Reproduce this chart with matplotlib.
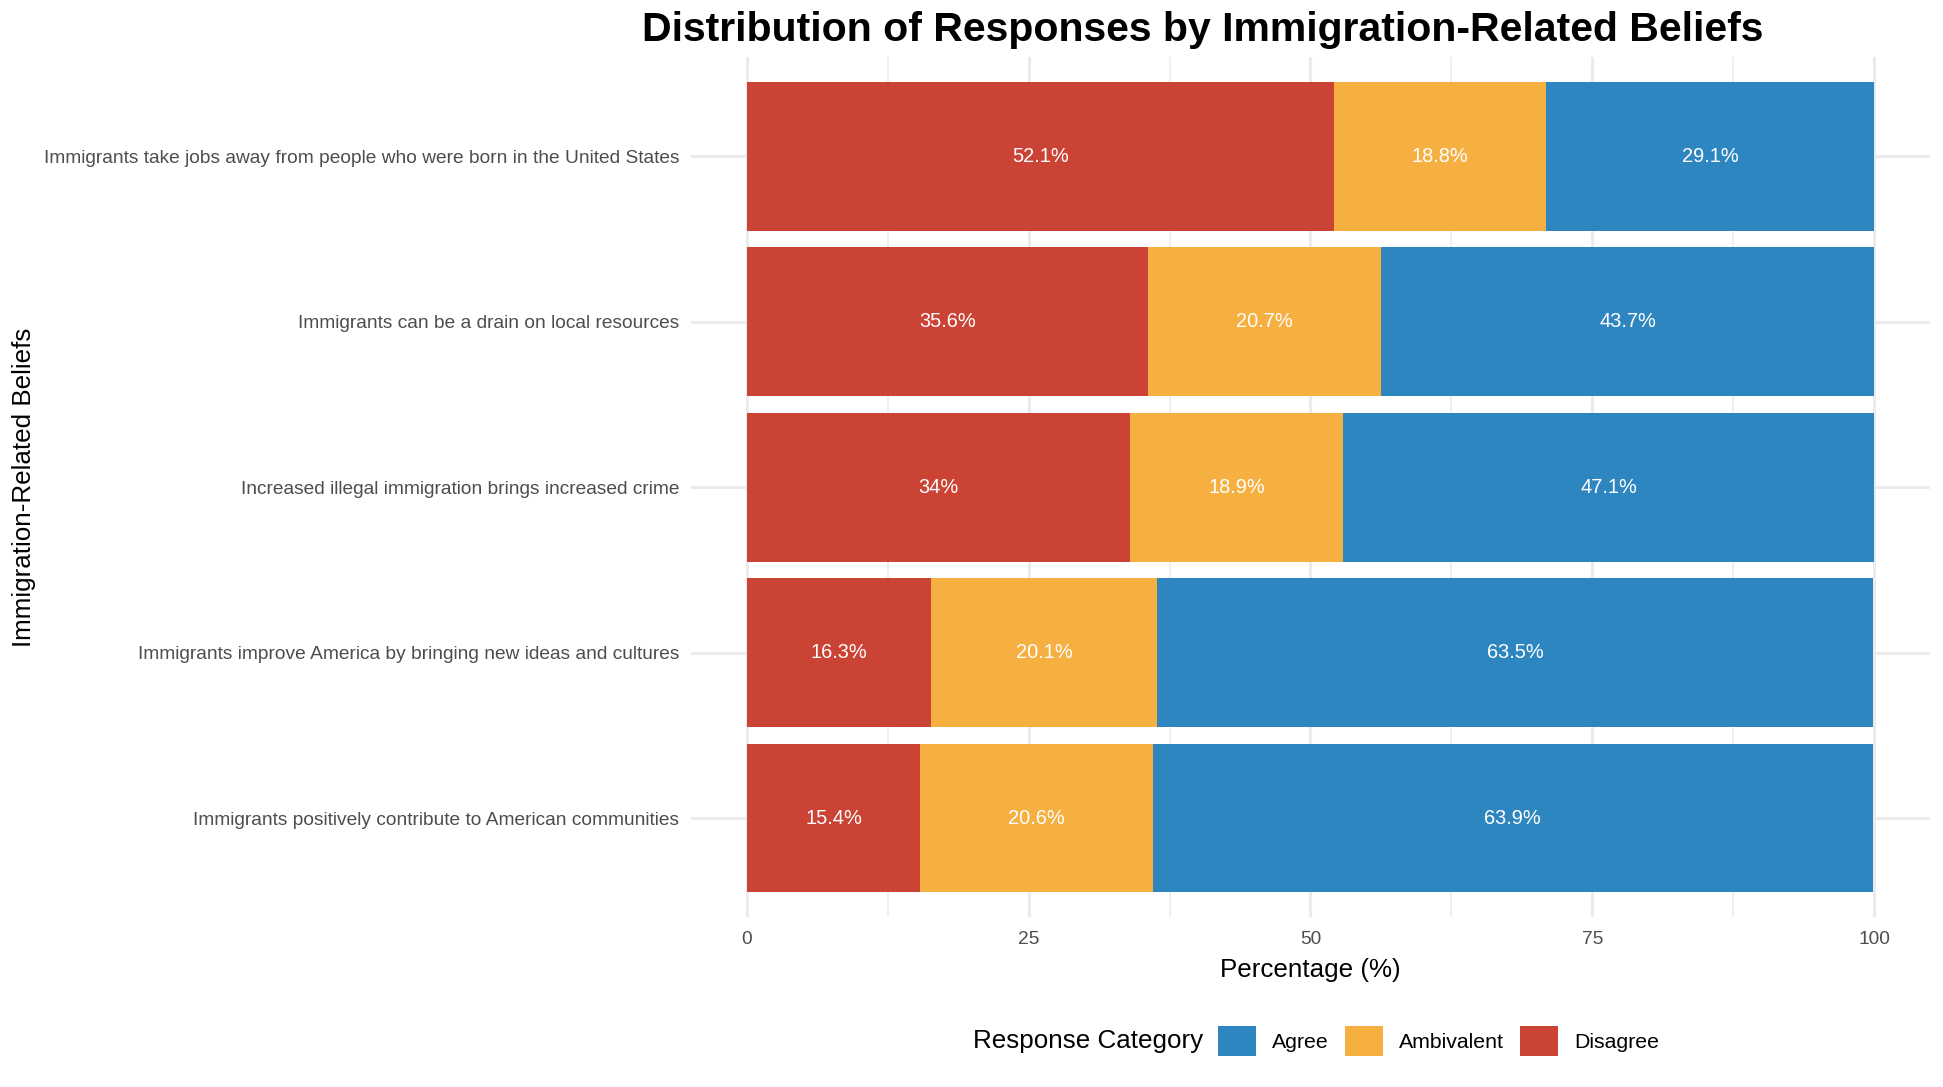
import matplotlib.pyplot as plt
from matplotlib.patches import Patch
import numpy as np

plt.rcParams['font.family'] = ['Liberation Sans', 'DejaVu Sans']

# beliefs, listed top to bottom
beliefs = [
    "Immigrants take jobs away from people who were born in the United States",
    "Immigrants can be a drain on local resources",
    "Increased illegal immigration brings increased crime",
    "Immigrants improve America by bringing new ideas and cultures",
    "Immigrants positively contribute to American communities",
]
disagree = [52.1, 35.6, 34.0, 16.3, 15.4]
ambivalent = [18.8, 20.7, 18.9, 20.1, 20.6]
agree = [29.1, 43.7, 47.1, 63.5, 63.9]

categories = ["Disagree", "Ambivalent", "Agree"]
colors = {"Agree": "#2E86C1", "Ambivalent": "#F5B041", "Disagree": "#CB4335"}

fig = plt.figure(figsize=(19.43, 10.87), dpi=100)
ax = fig.add_axes([0.3554, 0.1561, 0.6381, 0.7917])

ypos = np.arange(len(beliefs))[::-1]  # first belief at top
left = np.zeros(len(beliefs))
for name, vals in zip(categories, [disagree, ambivalent, agree]):
    vals = np.array(vals)
    ax.barh(ypos, vals, left=left, height=0.9, color=colors[name], zorder=2)
    for y, l, v in zip(ypos, left, vals):
        ax.text(l + v / 2, y, f"{v:g}%", ha="center", va="center",
                color="white", fontsize=14.4, zorder=3)
    left += vals

ax.set_xlim(-5, 105)
ax.set_ylim(-0.6, len(beliefs) - 0.4)
ax.set_xticks([0, 25, 50, 75, 100])
ax.set_xticks([12.5, 37.5, 62.5, 87.5], minor=True)
ax.set_yticks(ypos)
ax.set_yticklabels(beliefs)

ax.grid(True, which="major", color="#EBEBEB", linewidth=2.2, zorder=0)
ax.grid(True, which="minor", axis="x", color="#EBEBEB", linewidth=1.1, zorder=0)
for s in ax.spines.values():
    s.set_visible(False)
ax.tick_params(axis="both", which="both", length=0, labelsize=13.75,
               labelcolor="#4D4D4D")
ax.tick_params(axis="x", pad=10)
ax.tick_params(axis="y", pad=8)

ax.set_xlabel("Percentage (%)", fontsize=18.7)
ax.xaxis.set_label_coords(0.5, -0.047)
ax.set_ylabel("Immigration-Related Beliefs", fontsize=18.7)
ax.yaxis.set_label_coords(-0.528, 0.5)

fig.text(1203 / 1943, 1 - 30 / 1087, "Distribution of Responses by Immigration-Related Beliefs",
         ha="center", va="center", fontsize=29.5, fontweight="bold")

# legend with title on the left
fig.text(1203 / 1943, 1 - 1041 / 1087, "Response Category", ha="right",
         va="center", fontsize=18.7)
handles = [Patch(facecolor=colors[c], label=c) for c in ["Agree", "Ambivalent", "Disagree"]]
fig.legend(handles=handles, loc="center left", bbox_to_anchor=(1218 / 1943, 1 - 1041 / 1087),
           ncol=3, frameon=False, fontsize=15.3, handlelength=1.8, handleheight=1.8,
           handletextpad=0.75, columnspacing=0.75, borderpad=0, borderaxespad=0)

fig.savefig("out.png", dpi=100)
